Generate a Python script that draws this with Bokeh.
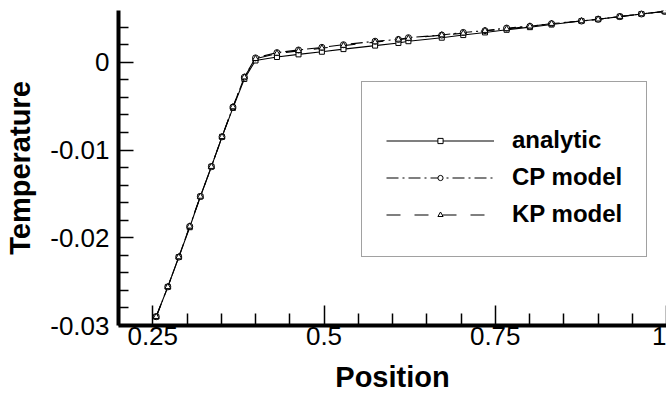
from bokeh.plotting import figure
from bokeh.models import FixedTicker, Legend, LegendItem, Range1d
from bokeh.embed import file_html
from bokeh.resources import INLINE

# ---- data ----
position = [0.255, 0.272, 0.288, 0.304, 0.3195, 0.3356, 0.3511, 0.3671, 0.3837, 0.400,
            0.4313, 0.4628, 0.4969, 0.5284, 0.5746, 0.6086, 0.6232, 0.6719, 0.7033,
            0.7350, 0.7666, 0.8006, 0.8322, 0.8759, 0.9002, 0.9318, 0.9634, 0.9974]
analytic = [-0.0290, -0.0256, -0.0222, -0.0188, -0.0153, -0.0119, -0.0085, -0.0052, -0.0019, 0.0002,
            0.0006, 0.0009, 0.0012, 0.0015, 0.0019, 0.0022, 0.0024, 0.0028, 0.0031,
            0.0034, 0.0037, 0.0040, 0.0043, 0.0047, 0.0049, 0.0052, 0.0055, 0.0058]
cp_model = [-0.0290, -0.0256, -0.0222, -0.0187, -0.0153, -0.0119, -0.0085, -0.0051, -0.0017, 0.0005,
            0.0011, 0.0014, 0.0017, 0.0020, 0.0024, 0.0026, 0.0028, 0.0031, 0.0034,
            0.0036, 0.0039, 0.0041, 0.0044, 0.0047, 0.0049, 0.0052, 0.0055, 0.0058]
kp_model = [-0.0290, -0.0256, -0.0222, -0.0187, -0.0153, -0.0119, -0.0085, -0.0051, -0.0017, 0.0004,
            0.0010, 0.0013, 0.0016, 0.0019, 0.0023, 0.0026, 0.0027, 0.0031, 0.0033,
            0.0036, 0.0038, 0.0041, 0.0044, 0.0047, 0.0049, 0.0052, 0.0055, 0.0058]
series_names = ["analytic", "CP model", "KP model"]

x_major = [0.25, 0.5, 0.75, 1.0]
x_labels = ["0.25", "0.5", "0.75", "1"]
x_minor = [0.3, 0.35, 0.4, 0.45, 0.55, 0.6, 0.65, 0.7, 0.8, 0.85, 0.9, 0.95]
y_major = [-0.03, -0.02, -0.01, 0.0]
y_labels = ["-0.03", "-0.02", "-0.01", "0"]
y_minor = [-0.028, -0.026, -0.024, -0.022, -0.018, -0.016, -0.014, -0.012,
           -0.008, -0.006, -0.004, -0.002, 0.002, 0.004]

FONT = "Liberation Sans"

p = figure(width=666, height=400,
           x_range=Range1d(0.2, 1.0), y_range=Range1d(-0.03, 0.0059),
           output_backend="svg", toolbar_location=None,
           min_border_left=118, min_border_right=0, min_border_top=10, min_border_bottom=75)
p.outline_line_color = None
p.grid.visible = False
p.background_fill_color = "white"

p.xaxis.ticker = FixedTicker(ticks=x_major, minor_ticks=x_minor)
p.yaxis.ticker = FixedTicker(ticks=y_major, minor_ticks=y_minor)
p.xaxis.major_label_overrides = dict(zip(x_major, x_labels))
p.yaxis.major_label_overrides = dict(zip(y_major, y_labels))
p.xaxis.axis_label = "Position"
p.yaxis.axis_label = "Temperature"

for ax in (p.xaxis, p.yaxis):
    ax.axis_line_width = 4
    ax.axis_line_color = "black"
    ax.major_tick_out = 0
    ax.minor_tick_out = 0
    ax.major_tick_line_width = 1.5
    ax.minor_tick_line_width = 1.5
    ax.major_tick_line_color = "black"
    ax.minor_tick_line_color = "black"
    ax.major_label_text_font = FONT
    ax.major_label_text_font_size = "26px"
    ax.major_label_text_color = "black"
    ax.axis_label_text_font = FONT
    ax.axis_label_text_font_style = "bold"
    ax.axis_label_text_font_size = "29px"
    ax.axis_label_text_color = "black"

p.xaxis.major_tick_in = 20
p.xaxis.minor_tick_in = 12
p.xaxis.major_label_standoff = 1
p.xaxis.axis_label_standoff = 13
p.yaxis.major_tick_in = 15
p.yaxis.minor_tick_in = 10
p.yaxis.major_label_standoff = 9
p.yaxis.axis_label_standoff = 11

l1 = p.line(position, analytic, line_color="black", line_width=1.1)
s1 = p.scatter(position, analytic, marker="square", size=5, line_color="black",
               fill_color="white", line_width=1)
l2 = p.line(position, cp_model, line_color="black", line_width=1.1, line_dash="12 4 2 4")
s2 = p.scatter(position, cp_model, marker="circle", size=6, line_color="black",
               fill_color="white", line_width=1)
l3 = p.line(position, kp_model, line_color="black", line_width=1.1, line_dash="14 14")
s3 = p.scatter(position, kp_model, marker="triangle", size=6, line_color="black",
               fill_color="white", line_width=1)

legend = Legend(items=[LegendItem(label=series_names[0], renderers=[l1, s1]),
                       LegendItem(label=series_names[1], renderers=[l2, s2]),
                       LegendItem(label=series_names[2], renderers=[l3, s3])],
                location=(243, 68), glyph_width=108, glyph_height=13, label_height=36,
                spacing=1, padding=24, label_standoff=18, margin=0,
                border_line_color="#444444", border_line_width=1.5,
                background_fill_color="white", background_fill_alpha=1,
                label_text_font=FONT, label_text_font_style="bold",
                label_text_font_size="24px", label_text_color="black",
                title=" ", title_text_font_size="12px", title_standoff=2)
p.add_layout(legend)

open("out.html", "w").write(file_html(p, INLINE))
